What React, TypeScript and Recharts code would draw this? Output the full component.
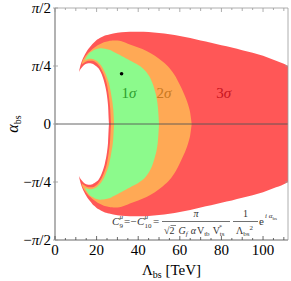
import { ComposedChart, Area, XAxis, YAxis, ReferenceLine, Scatter } from 'recharts';

const PI = Math.PI;
const SERIF = '"Liberation Serif", "Times New Roman", serif';

// upper half of each confidence band: Λ_bs [TeV] samples, inner and outer edge of α_bs (rad)
// the lower half of the plot is the mirror image
const lam3 = [11.5, 12, 13, 14, 15, 16, 17, 18, 19, 20, 21, 22, 23, 24, 25, 25.5, 26, 28, 32, 36, 40, 45, 50, 55, 60, 65, 70, 75, 80, 85, 90, 95, 100, 105, 110, 112];
const outer3 = [0.705, 0.77, 0.86, 0.92, 0.97, 1.015, 1.05, 1.085, 1.11, 1.137, 1.155, 1.17, 1.185, 1.197, 1.205, 1.209, 1.213, 1.225, 1.243, 1.25, 1.25, 1.245, 1.233, 1.215, 1.192, 1.165, 1.13, 1.1, 1.065, 1.035, 1.0, 0.965, 0.925, 0.87, 0.815, 0.785];
const inner3 = [0.705, 0.73, 0.77, 0.8, 0.815, 0.822, 0.822, 0.815, 0.8, 0.78, 0.75, 0.7, 0.63, 0.53, 0.38, 0.25, 0, 0, 0, 0, 0, 0, 0, 0, 0, 0, 0, 0, 0, 0, 0, 0, 0, 0, 0, 0];

const lam2 = [12.8, 13, 14, 15, 16, 17, 18, 19, 20, 21, 22, 23, 24, 25, 26, 26.5, 27, 28, 30, 32, 34, 36, 40, 44, 48, 52, 55, 58, 60, 62, 64, 65, 65.7];
const outer2 = [0.805, 0.83, 0.89, 0.93, 0.965, 0.99, 1.015, 1.035, 1.055, 1.072, 1.088, 1.1, 1.11, 1.118, 1.124, 1.126, 1.128, 1.13, 1.13, 1.12, 1.1, 1.075, 1.035, 0.99, 0.925, 0.84, 0.76, 0.64, 0.53, 0.41, 0.26, 0.15, 0];
const inner2 = [0.805, 0.81, 0.83, 0.845, 0.855, 0.858, 0.855, 0.845, 0.825, 0.795, 0.755, 0.7, 0.63, 0.53, 0.35, 0.22, 0, 0, 0, 0, 0, 0, 0, 0, 0, 0, 0, 0, 0, 0, 0, 0, 0];

const lam1 = [14.3, 15, 16, 17, 18, 19, 20, 21, 22, 23, 24, 25, 26, 27, 28, 28.5, 30, 32, 34, 36, 38, 40, 42, 44, 46, 47, 48, 49, 49.5, 50];
const outer1 = [0.86, 0.9, 0.94, 0.97, 0.99, 1.005, 1.015, 1.022, 1.025, 1.024, 1.02, 1.013, 1.005, 0.995, 0.98, 0.972, 0.95, 0.92, 0.89, 0.86, 0.83, 0.8, 0.76, 0.7, 0.61, 0.54, 0.45, 0.33, 0.22, 0];
const inner1 = [0.86, 0.87, 0.88, 0.885, 0.88, 0.87, 0.855, 0.83, 0.8, 0.755, 0.7, 0.63, 0.54, 0.4, 0.2, 0, 0, 0, 0, 0, 0, 0, 0, 0, 0, 0, 0, 0, 0, 0];

const bestFit = [{ lam: 32, alpha: 0.68 }];
const sigmaLabels = [
  { lam: 35.6, alpha: 0.42, text: '1', color: '#2ca02c' },
  { lam: 52.4, alpha: 0.42, text: '2', color: '#c87820' },
  { lam: 81.1, alpha: 0.42, text: '3', color: '#c8141e' },
];

const xTicks = [0, 5, 10, 15, 20, 25, 30, 35, 40, 45, 50, 55, 60, 65, 70, 75, 80, 85, 90, 95, 100, 105, 110];
const yTicks = [-PI / 2, -PI / 4, 0, PI / 4, PI / 2];
const yTickLabels = ['−π/2', '−π/4', '0', 'π/4', 'π/2'];

const RED = '#ff5757';
const ORANGE = '#ffa955';
const GREEN = '#8cfa8c';

const band = (lam: number[], inner: number[], outer: number[], up: boolean) =>
  lam.map((l, i) => ({ lam: l, v: up ? [inner[i], outer[i]] : [-outer[i], -inner[i]] }));

const mathText = (s: string) =>
  s.split('').map((c, i) => (c === 'π' ? <tspan key={i} fontStyle="italic">π</tspan> : <tspan key={i}>{c}</tspan>));

const BottomTick = (p: any) => {
  const v = p.payload.value;
  const len = v % 20 === 0 ? 4 : v % 10 === 0 ? 3 : 2;
  return (
    <g>
      <line x1={p.x} x2={p.x} y1={p.y} y2={p.y - len} stroke="#444" strokeWidth={0.8} />
      {v % 20 === 0 && (
        <text x={p.x} y={p.y + 15} textAnchor="middle" fontSize={15} fontFamily={SERIF} fill="#000">{v}</text>
      )}
    </g>
  );
};

const TopTick = (p: any) => {
  const v = p.payload.value;
  const len = v % 20 === 0 ? 4 : v % 10 === 0 ? 3 : 2;
  return <line x1={p.x} x2={p.x} y1={p.y} y2={p.y + len} stroke="#999" strokeWidth={0.8} />;
};

const LeftTick = (p: any) => {
  const idx = yTicks.findIndex((t) => Math.abs(t - p.payload.value) < 1e-6);
  return (
    <g>
      <line x1={p.x - 2} x2={p.x + 3} y1={p.y} y2={p.y} stroke="#999" strokeWidth={0.8} />
      <text x={p.x - 4} y={p.y + 5} textAnchor="end" fontSize={15} fontFamily={SERIF} fill="#000">
        {mathText(yTickLabels[idx] ?? '')}
      </text>
    </g>
  );
};

const RightTick = (p: any) => (
  <line x1={p.x} x2={p.x - 3} y1={p.y} y2={p.y} stroke="#999" strokeWidth={0.8} />
);

const Formula = () => {
  const fs = 11;
  const sm = 7;
  const col = '#333';
  return (
    <g fontFamily={SERIF} fill={col}>
      <text x={112} y={225} fontSize={fs} fontStyle="italic">C</text>
      <text x={119.5} y={219} fontSize={sm} fontStyle="italic">μ</text>
      <text x={119.5} y={228} fontSize={sm}>9</text>
      <text x={124} y={225} fontSize={fs}>=−</text>
      <text x={137} y={225} fontSize={fs} fontStyle="italic">C</text>
      <text x={144.5} y={219} fontSize={sm} fontStyle="italic">μ</text>
      <text x={144.5} y={228} fontSize={sm}>10</text>
      <text x={153} y={225} fontSize={fs}>=</text>
      <line x1={162} x2={230} y1={221.5} y2={221.5} stroke={col} strokeWidth={0.7} />
      <text x={196} y={217} fontSize={10} fontStyle="italic" textAnchor="middle">π</text>
      <text x={164} y={234} fontSize={10}>
        <tspan>√2</tspan>
        <tspan dx={4} fontStyle="italic">G</tspan>
        <tspan fontSize={sm} dy={2} fontStyle="italic">f</tspan>
        <tspan dx={3} dy={-2} fontStyle="italic">α</tspan>
        <tspan dx={1}>V</tspan>
        <tspan fontSize={sm} dy={2}>tb</tspan>
        <tspan dx={3} dy={-2}>V</tspan>
        <tspan fontSize={sm} dy={2}>ts</tspan>
      </text>
      <text x={219} y={229} fontSize={6}>*</text>
      <line x1={170.5} x2={176} y1={225.5} y2={225.5} stroke={col} strokeWidth={0.6} />
      <line x1={233} x2={258} y1={221.5} y2={221.5} stroke={col} strokeWidth={0.7} />
      <text x={245.5} y={217} fontSize={10} textAnchor="middle">1</text>
      <text x={236} y={234} fontSize={10}>
        <tspan>Λ</tspan>
        <tspan fontSize={sm} dy={2}>bs</tspan>
        <tspan fontSize={sm} dy={-6}>2</tspan>
      </text>
      <text x={259} y={225} fontSize={fs}>e</text>
      <text x={265} y={218} fontSize={sm}>
        <tspan fontStyle="italic">i α</tspan>
        <tspan fontSize={5} dy={1.5}>bs</tspan>
      </text>
    </g>
  );
};

export default function App() {
  const areas = [
    { lam: lam3, inner: inner3, outer: outer3, fill: RED, id: 'r' },
    { lam: lam2, inner: inner2, outer: outer2, fill: ORANGE, id: 'o' },
    { lam: lam1, inner: inner1, outer: outer1, fill: GREEN, id: 'g' },
  ];
  return (
    <div style={{ position: 'absolute', left: 0, top: 0, width: 291, height: 281, background: '#fff' }}>
      <ComposedChart width={291} height={281} margin={{ top: 7, right: 2, bottom: 0, left: 0 }}>
        <XAxis
          type="number"
          dataKey="lam"
          domain={[0, 112]}
          ticks={xTicks}
          interval={0}
          height={41}
          tickSize={0}
          tickMargin={0}
          tickLine={false}
          allowDataOverflow
          axisLine={{ stroke: '#444', strokeWidth: 0.8 }}
          tick={(p: any) => <BottomTick {...p} />}
        />
        <XAxis
          xAxisId="top"
          orientation="top"
          type="number"
          dataKey="lam"
          domain={[0, 112]}
          ticks={xTicks}
          interval={0}
          height={1}
          tickSize={0}
          tickMargin={0}
          tickLine={false}
          allowDataOverflow
          axisLine={{ stroke: '#999', strokeWidth: 0.8 }}
          tick={(p: any) => <TopTick {...p} />}
        />
        <YAxis
          type="number"
          domain={[-PI / 2, PI / 2]}
          ticks={yTicks}
          interval={0}
          width={55}
          tickSize={0}
          tickMargin={0}
          tickLine={false}
          allowDataOverflow
          axisLine={{ stroke: '#999', strokeWidth: 1.5 }}
          tick={(p: any) => <LeftTick {...p} />}
        />
        <YAxis
          yAxisId="right"
          orientation="right"
          type="number"
          domain={[-PI / 2, PI / 2]}
          ticks={[-PI / 4, PI / 4]}
          interval={0}
          width={1}
          tickSize={0}
          tickMargin={0}
          tickLine={false}
          allowDataOverflow
          axisLine={{ stroke: '#999', strokeWidth: 0.8 }}
          tick={(p: any) => <RightTick {...p} />}
        />
        {areas.flatMap((a) => [
          <Area
            key={a.id + 'up'}
            data={band(a.lam, a.inner, a.outer, true)}
            dataKey="v"
            type="monotone"
            fill={a.fill}
            fillOpacity={1}
            stroke="none"
            isAnimationActive={false}
          />,
          <Area
            key={a.id + 'dn'}
            data={band(a.lam, a.inner, a.outer, false)}
            dataKey="v"
            type="monotone"
            fill={a.fill}
            fillOpacity={1}
            stroke="none"
            isAnimationActive={false}
          />,
        ])}
        <ReferenceLine y={0} stroke="#555" strokeWidth={0.9} />
        <Scatter
          data={bestFit}
          dataKey="alpha"
          isAnimationActive={false}
          shape={(p: any) => <circle cx={p.cx} cy={p.cy} r={1.8} fill="#000" />}
        />
        <Scatter
          data={sigmaLabels}
          dataKey="alpha"
          isAnimationActive={false}
          shape={(p: any) => (
            <text x={p.cx} y={p.cy + 5} textAnchor="middle" fontSize={15} fontFamily={SERIF} fill={p.payload.color}>
              {p.payload.text}
              <tspan fontStyle="italic">σ</tspan>
            </text>
          )}
        />
      </ComposedChart>
      <svg width={291} height={281} style={{ position: 'absolute', left: 0, top: 0, pointerEvents: 'none' }}>
        <text x={171.5} y={275} textAnchor="middle" fontSize={15} fontFamily={SERIF} fill="#000">
          Λ<tspan fontSize={10} dy={3}>bs</tspan>
          <tspan dy={-3}> [TeV]</tspan>
        </text>
        <text transform="translate(18,124) rotate(-90)" textAnchor="middle" fontSize={16} fontFamily={SERIF} fill="#000">
          <tspan fontStyle="italic">α</tspan>
          <tspan fontSize={10} dy={3}>bs</tspan>
        </text>
        <Formula />
      </svg>
    </div>
  );
}
